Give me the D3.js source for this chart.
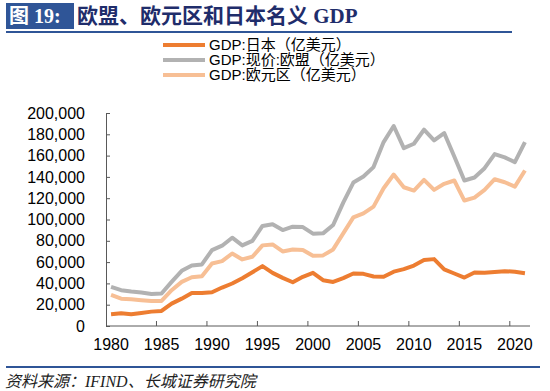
<!DOCTYPE html>
<html>
<head>
<meta charset="utf-8">
<script src="https://cdn.jsdelivr.net/npm/d3@7"></script>
<style>
  html, body { margin: 0; padding: 0; background: #fff; }
  svg { display: block; }
  .axis text { font-family: "Liberation Sans", Arial, sans-serif; font-size: 16px; fill: #000; }
</style>
</head>
<body>
<div id="chart"></div>
<script>
// ── Data (亿美元) ───────────────────────────────────────────────────────────
const YEARS = d3.range(1980, 2022);

const JAPAN = [
  11000, 11900, 11000, 12200, 13500, 14100, 21000, 25700, 31000, 31000,
  31700, 36100, 39900, 44900, 50500, 56200, 49900, 45200, 41100, 46200,
  49900, 43000, 41400, 44900, 49300, 49000, 46500, 46200, 51000, 53400,
  56800, 61900, 62800, 53100, 49300, 45500, 50200, 49900, 50600, 51500,
  50900, 49600
];
const EU = [
  36700, 33600, 32300, 31400, 30100, 30500, 41400, 51800, 56800, 57800,
  71300, 75400, 82900, 75700, 79900, 93900, 95500, 90100, 93300, 92900,
  86700, 87000, 94800, 115900, 134700, 140400, 149200, 172700, 187800, 167000,
  171100, 184300, 174300, 181200, 159200, 136600, 139400, 148200, 161400, 158300,
  153900, 172700
];
const EURO = [
  29200, 25700, 25100, 24200, 23500, 23500, 33600, 41400, 45800, 46800,
  58700, 60900, 68100, 62500, 65000, 75700, 76600, 70000, 71900, 71300,
  65900, 66300, 71900, 87000, 102000, 105800, 112100, 129400, 142200, 130300,
  127200, 137200, 127800, 133500, 136600, 117800, 120600, 127800, 137800, 135000,
  130900, 146000
];

const SERIES = [
  { name: "GDP:日本（亿美元）",      values: JAPAN, color: "#ED7D31" },
  { name: "GDP:现价:欧盟（亿美元）", values: EU,    color: "#B2B2B2" },
  { name: "GDP:欧元区（亿美元）",    values: EURO,  color: "#F7BF95" },
];
// draw order: bottom first so the orange sits on top
const DRAW_ORDER = [1, 2, 0];

const Y_TICKS = d3.range(0, 200001, 20000);
const X_LABELS = [1980, 1985, 1990, 1995, 2000, 2005, 2010, 2015, 2020];
const X_TICKS = [1985, 1990, 1995, 2000, 2005, 2010, 2015, 2020];

const TITLE_TAG = "图 19:";
const TITLE = "欧盟、欧元区和日本名义 GDP";
const SOURCE = "资料来源：IFIND、长城证券研究院";

// ── Layout ─────────────────────────────────────────────────────────────────
const W = 550, H = 391;
const plot = { left: 106, right: 530, top: 113, bottom: 326 };
const BLUE = "#2F5597";
const AXIS = "#595959";

const svg = d3.select("#chart").append("svg")
  .attr("width", W).attr("height", H)
  .attr("viewBox", `0 0 ${W} ${H}`);

// ── Header ─────────────────────────────────────────────────────────────────
svg.append("rect")
  .attr("x", 6).attr("y", 3).attr("width", 68).attr("height", 26)
  .attr("fill", BLUE);
svg.append("text")
  .attr("x", 9).attr("y", 23)
  .attr("font-family", "'Liberation Serif', 'Noto Sans CJK SC', serif")
  .attr("font-weight", "bold").attr("font-size", 20)
  .attr("fill", "#fff")
  .text(TITLE_TAG);
svg.append("text")
  .attr("x", 77).attr("y", 23)
  .attr("font-family", "'Liberation Serif', 'Noto Sans CJK SC', serif")
  .attr("font-weight", "bold").attr("font-size", 21)
  .attr("fill", "#1F2D6B")
  .text(TITLE);
svg.append("line")
  .attr("x1", 6).attr("x2", 512).attr("y1", 32).attr("y2", 32)
  .attr("stroke", BLUE).attr("stroke-width", 2);

// ── Scales ─────────────────────────────────────────────────────────────────
const x = d3.scaleBand().domain(YEARS).range([plot.left, plot.right]).padding(0);
const xc = yr => x(yr) + x.bandwidth() / 2;
const y = d3.scaleLinear().domain([0, 200000]).range([plot.bottom, plot.top]);

// ── Axes ───────────────────────────────────────────────────────────────────
const yAxis = svg.append("g")
  .attr("class", "axis")
  .attr("transform", `translate(${plot.left},0)`)
  .call(d3.axisLeft(y).tickValues(Y_TICKS).tickFormat(d3.format(","))
    .tickSizeInner(-4).tickSizeOuter(0).tickPadding(21));
yAxis.selectAll("line, path").attr("stroke", AXIS);

const xAxis = svg.append("g")
  .attr("class", "axis")
  .attr("transform", `translate(0,${plot.bottom})`)
  .call(d3.axisBottom(x).tickValues(X_LABELS).tickSize(0).tickPadding(13));
xAxis.select("path").remove();
xAxis.append("line")
  .attr("x1", plot.left).attr("x2", plot.right)
  .attr("stroke", AXIS);
xAxis.selectAll("line.xt")
  .data(X_TICKS).enter().append("line")
  .attr("class", "xt")
  .attr("x1", d => x(d)).attr("x2", d => x(d))
  .attr("y1", 0).attr("y2", -5)
  .attr("stroke", AXIS);

// ── Lines ──────────────────────────────────────────────────────────────────
const line = d3.line()
  .x((d, i) => xc(YEARS[i]))
  .y(d => y(d));

DRAW_ORDER.forEach(function (si) {
  const s = SERIES[si];
  svg.append("path")
    .datum(s.values)
    .attr("d", line)
    .attr("fill", "none")
    .attr("stroke", s.color)
    .attr("stroke-width", 4)
    .attr("stroke-linejoin", "round");
});

// ── Legend ─────────────────────────────────────────────────────────────────
const legend = svg.append("g").attr("transform", "translate(163,45)");
SERIES.forEach(function (s, i) {
  const row = legend.append("g").attr("transform", `translate(0,${i * 15})`);
  row.append("line")
    .attr("x1", 0).attr("x2", 42)
    .attr("stroke", s.color).attr("stroke-width", 4);
  row.append("text")
    .attr("x", 46).attr("dy", "0.36em")
    .attr("font-family", "'Liberation Sans', 'Noto Sans CJK SC', sans-serif")
    .attr("font-size", 15)
    .attr("fill", "#000")
    .text(s.name);
});

// ── Footer ─────────────────────────────────────────────────────────────────
svg.append("line")
  .attr("x1", 6).attr("x2", 540).attr("y1", 367).attr("y2", 367)
  .attr("stroke", BLUE).attr("stroke-width", 2);
svg.append("text")
  .attr("x", 5).attr("y", 387)
  .attr("font-family", "'Liberation Serif', 'Noto Sans CJK SC', serif")
  .attr("font-style", "italic")
  .attr("font-size", 16)
  .attr("fill", "#222")
  .text(SOURCE);
</script>
</body>
</html>
